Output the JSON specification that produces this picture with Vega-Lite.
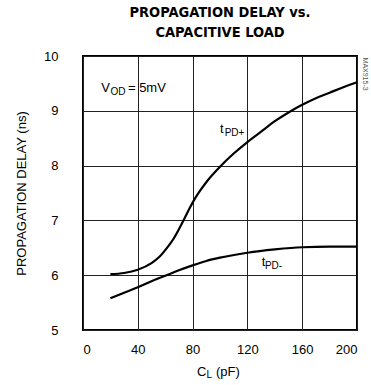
{
  "$schema": "https://vega.github.io/schema/vega-lite/v6.json",
  "autosize": "none",
  "padding": {"left": 83, "top": 56, "right": 14, "bottom": 55},
  "width": 274,
  "height": 274,
  "title": {
    "text": ["PROPAGATION DELAY vs.", "CAPACITIVE LOAD"],
    "font": "DejaVu Sans Condensed",
    "fontWeight": "bold",
    "fontSize": 14.5,
    "lineHeight": 20,
    "offset": 10,
    "color": "black"
  },
  "config": {
    "view": {"stroke": "black", "strokeWidth": 2},
    "axis": {
      "labelFont": "Liberation Sans",
      "labelFontSize": 13,
      "labelColor": "black",
      "titleFont": "Liberation Sans",
      "titleFontSize": 13,
      "titleFontWeight": "normal",
      "titleColor": "black",
      "ticks": false,
      "tickSize": 0,
      "domain": false,
      "grid": true,
      "gridColor": "#222",
      "gridWidth": 1,
      "gridOpacity": 1
    },
    "text": {"font": "Liberation Sans", "color": "black"}
  },
  "datasets": {
    "curves": [
      {"series": "tPD+", "cl": 20, "delay": 6.02},
      {"series": "tPD+", "cl": 30, "delay": 6.04},
      {"series": "tPD+", "cl": 40, "delay": 6.1},
      {"series": "tPD+", "cl": 50, "delay": 6.22},
      {"series": "tPD+", "cl": 56, "delay": 6.34},
      {"series": "tPD+", "cl": 62, "delay": 6.52},
      {"series": "tPD+", "cl": 66, "delay": 6.66},
      {"series": "tPD+", "cl": 70, "delay": 6.84},
      {"series": "tPD+", "cl": 74, "delay": 7.03},
      {"series": "tPD+", "cl": 78, "delay": 7.23},
      {"series": "tPD+", "cl": 82, "delay": 7.41},
      {"series": "tPD+", "cl": 86, "delay": 7.56},
      {"series": "tPD+", "cl": 92, "delay": 7.76},
      {"series": "tPD+", "cl": 100, "delay": 7.98},
      {"series": "tPD+", "cl": 110, "delay": 8.22},
      {"series": "tPD+", "cl": 120, "delay": 8.43},
      {"series": "tPD+", "cl": 130, "delay": 8.62},
      {"series": "tPD+", "cl": 140, "delay": 8.81},
      {"series": "tPD+", "cl": 150, "delay": 8.97},
      {"series": "tPD+", "cl": 160, "delay": 9.11},
      {"series": "tPD+", "cl": 170, "delay": 9.23},
      {"series": "tPD+", "cl": 180, "delay": 9.33},
      {"series": "tPD+", "cl": 190, "delay": 9.43},
      {"series": "tPD+", "cl": 200, "delay": 9.52},
      {"series": "tPD-", "cl": 20, "delay": 5.58},
      {"series": "tPD-", "cl": 30, "delay": 5.68},
      {"series": "tPD-", "cl": 40, "delay": 5.78},
      {"series": "tPD-", "cl": 50, "delay": 5.89},
      {"series": "tPD-", "cl": 60, "delay": 5.99},
      {"series": "tPD-", "cl": 70, "delay": 6.09},
      {"series": "tPD-", "cl": 80, "delay": 6.18},
      {"series": "tPD-", "cl": 90, "delay": 6.26},
      {"series": "tPD-", "cl": 100, "delay": 6.32},
      {"series": "tPD-", "cl": 120, "delay": 6.41},
      {"series": "tPD-", "cl": 140, "delay": 6.47},
      {"series": "tPD-", "cl": 160, "delay": 6.51},
      {"series": "tPD-", "cl": 180, "delay": 6.52},
      {"series": "tPD-", "cl": 200, "delay": 6.52}
    ],
    "main": [
      {"cl": 13.4, "delay": 9.42, "label": "V"},
      {"cl": 32.8, "delay": 9.42, "label": "= 5mV"},
      {"cl": 100, "delay": 8.66, "label": "t"},
      {"cl": 130.4, "delay": 6.24, "label": "t"},
      {"cl": 83.2, "delay": 4.24, "label": "C"},
      {"cl": 97.1, "delay": 4.24, "label": "(pF)"}
    ],
    "subs": [
      {"cl": 20.1, "delay": 9.35, "label": "OD"},
      {"cl": 103.4, "delay": 8.59, "label": "PD+"},
      {"cl": 132.8, "delay": 6.17, "label": "PD-"},
      {"cl": 90.1, "delay": 4.17, "label": "L"}
    ],
    "code": [
      {"cl": 206, "delay": 9.67, "label": "MAX915-3"}
    ]
  },
  "encoding": {
    "x": {
      "field": "cl", "type": "quantitative",
      "scale": {"domain": [0, 200], "nice": false, "zero": false},
      "axis": {"values": [0, 40, 80, 120, 160, 200], "labelPadding": 13, "title": null}
    },
    "y": {
      "field": "delay", "type": "quantitative",
      "scale": {"domain": [5, 10], "nice": false, "zero": false},
      "axis": {"values": [5, 6, 7, 8, 9, 10], "labelPadding": 25, "title": "PROPAGATION DELAY (ns)", "titlePadding": 15}
    }
  },
  "layer": [
    {
      "data": {"name": "curves"},
      "mark": {"type": "line", "color": "black", "strokeWidth": 2.2, "interpolate": "monotone"},
      "encoding": {"detail": {"field": "series"}}
    },
    {
      "data": {"name": "main"},
      "mark": {"type": "text", "fontSize": 13, "align": "left", "baseline": "middle"},
      "encoding": {"text": {"field": "label"}}
    },
    {
      "data": {"name": "subs"},
      "mark": {"type": "text", "fontSize": 10, "align": "left", "baseline": "middle"},
      "encoding": {"text": {"field": "label"}}
    },
    {
      "data": {"name": "code"},
      "mark": {"type": "text", "fontSize": 7, "angle": 90, "align": "center", "baseline": "middle", "color": "#555"},
      "encoding": {"text": {"field": "label"}}
    }
  ]
}
